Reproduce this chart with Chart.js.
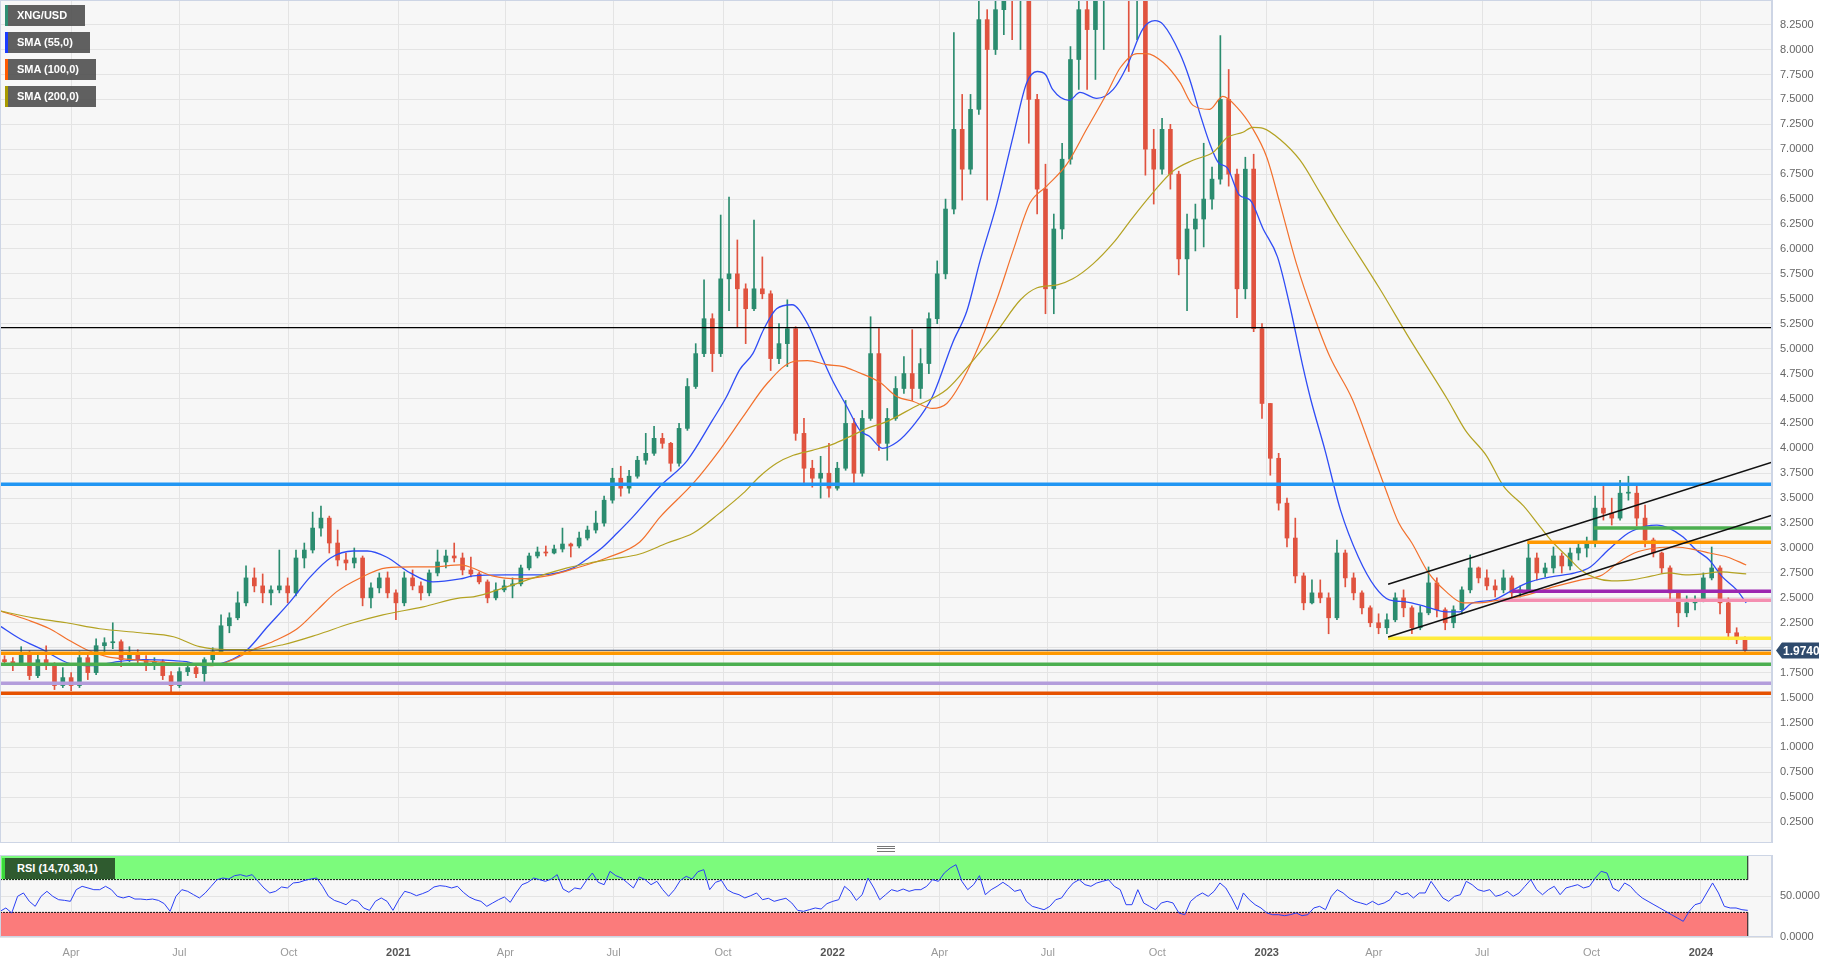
<!DOCTYPE html>
<html>
<head>
<meta charset="utf-8">
<script src="https://cdn.jsdelivr.net/npm/chart.js@4.4.1/dist/chart.umd.min.js"></script>
<style>
  html, body { margin: 0; padding: 0; background: #fff; width: 1837px; height: 964px; overflow: hidden; font-family: Arial, "Liberation Sans", sans-serif; }
  #main { position: absolute; left: 0; top: 0; }
  #rsi { position: absolute; left: 0; top: 853px; }
  .tag { position: absolute; left: 5px; height: 21px; line-height: 21px; background: rgba(84,84,84,0.93); color: #fff; font-weight: bold; font-size: 11px; padding-left: 9px; border-left: 3px solid; box-sizing: border-box; }
  #rsiTag { position: absolute; left: 2px; top: 858px; width: 113px; height: 21px; line-height: 21px; background: #2f5b2f; color: #fff; font-weight: bold; font-size: 11px; padding-left: 12px; border-left: 3px solid #3ad83a; box-sizing: border-box; }
  #grip { position: absolute; left: 877px; top: 846px; width: 18px; height: 6px; border-top: 1px solid #777; border-bottom: 1px solid #777; box-sizing: border-box; }
  #grip::after { content: ""; position: absolute; left: 0; right: 0; top: 1px; border-top: 1px solid #777; }
</style>
</head>
<body>
<canvas id="main" width="1837" height="843"></canvas>
<canvas id="rsi" width="1837" height="111"></canvas>
<div class="tag" style="top:5px;width:80px;border-left-color:#2f8f73">XNG/USD</div>
<div class="tag" style="top:32px;width:85px;border-left-color:#1b3cff">SMA (55,0)</div>
<div class="tag" style="top:59px;width:91px;border-left-color:#ff5a00">SMA (100,0)</div>
<div class="tag" style="top:86px;width:91px;border-left-color:#a89a00">SMA (200,0)</div>
<div id="rsiTag">RSI (14,70,30,1)</div>
<div id="grip"></div>
<script>
// time axis is in days counted from 2020-01-01
const firstCandleDay = 35;      // weekly candles, one per week from early Feb 2020
const xMin = 31.2, xMax = 1520.7;

const tickDays = [91, 182, 274, 366, 456, 547, 639, 731, 821, 912, 1004, 1096, 1186, 1277, 1369, 1461];
const tickLabels = ['Apr', 'Jul', 'Oct', '2021', 'Apr', 'Jul', 'Oct', '2022', 'Apr', 'Jul', 'Oct', '2023', 'Apr', 'Jul', 'Oct', '2024'];
const priceTicks = [0.25, 0.5, 0.75, 1, 1.25, 1.5, 1.75, 2, 2.25, 2.5, 2.75, 3, 3.25, 3.5, 3.75, 4, 4.25, 4.5, 4.75, 5, 5.25, 5.5, 5.75, 6, 6.25, 6.5, 6.75, 7, 7.25, 7.5, 7.75, 8, 8.25];

const opens = [
  1.88, 1.86, 1.84, 1.95, 1.72, 1.88, 1.82, 1.62, 1.70, 1.62, 1.90, 1.75, 2.02, 2.05, 2.06, 1.88, 1.95, 1.88, 1.82, 1.86,
  1.72, 1.62, 1.76, 1.80, 1.74, 1.88, 1.96, 2.22, 2.30, 2.45, 2.70, 2.62, 2.55, 2.58, 2.62, 2.55, 2.90, 2.98, 3.20, 3.30,
  3.05, 2.88, 2.85, 2.90, 2.50, 2.60, 2.70, 2.55, 2.45, 2.70, 2.62, 2.55, 2.75, 2.86, 2.92, 2.90, 2.78, 2.74, 2.66, 2.50,
  2.58, 2.62, 2.64, 2.80, 2.92, 2.96, 2.95, 2.99, 3.04, 3.02, 3.10, 3.18, 3.25, 3.48, 3.70, 3.60, 3.72, 3.88, 3.95, 4.10,
  4.05, 3.85, 4.20, 4.62, 4.95, 5.30, 4.95, 5.70, 5.75, 5.60, 5.40, 5.60, 5.55, 4.90, 5.05, 5.20, 4.15, 3.80, 3.70, 3.75,
  3.60, 3.80, 4.25, 3.75, 4.30, 4.95, 4.05, 4.30, 4.60, 4.75, 4.60, 4.85, 5.30, 5.75, 6.40, 7.20, 6.80, 7.40, 8.30, 8.00,
  8.40, 8.70, 8.50, 8.80, 7.50, 6.60, 5.60, 6.20, 6.90, 7.90, 8.40, 8.20, 8.70, 9.00, 9.20, 9.10, 8.80, 9.20, 7.00, 6.80,
  7.20, 6.75, 5.90, 6.20, 6.30, 6.50, 6.70, 7.50, 6.75, 5.60, 6.80, 5.20, 4.45, 3.90, 3.45, 3.10, 2.72, 2.45, 2.55, 2.50,
  2.30, 2.95, 2.70, 2.55, 2.40, 2.25, 2.20, 2.28, 2.50, 2.40, 2.20, 2.35, 2.65, 2.38, 2.25, 2.38, 2.58, 2.80, 2.70, 2.62,
  2.58, 2.70, 2.55, 2.58, 2.90, 2.75, 2.80, 2.92, 2.82, 2.95, 3.00, 3.05, 3.40, 3.35, 3.30, 3.55, 3.55, 3.30, 3.08, 2.95,
  2.80, 2.55, 2.35, 2.45, 2.48, 2.70, 2.80, 2.45, 2.15, 2.08
];
const highs = [
  1.92, 1.90, 2.01, 1.97, 1.94, 2.02, 1.85, 1.80, 1.75, 1.96, 1.93, 2.09, 2.10, 2.25, 2.08, 2.01, 1.98, 1.92, 1.90, 1.88,
  1.76, 1.80, 1.85, 1.84, 1.90, 2.00, 2.33, 2.35, 2.56, 2.82, 2.80, 2.74, 2.62, 2.98, 2.70, 2.98, 3.05, 3.36, 3.42, 3.32,
  3.18, 2.95, 3.00, 2.92, 2.65, 2.75, 2.76, 2.58, 2.76, 2.78, 2.66, 2.78, 2.98, 2.98, 3.05, 2.95, 2.91, 2.76, 2.68, 2.65,
  2.68, 2.70, 2.83, 2.95, 3.01, 3.02, 3.03, 3.20, 3.05, 3.16, 3.22, 3.37, 3.52, 3.80, 3.82, 3.78, 3.92, 4.15, 4.22, 4.15,
  4.06, 4.25, 4.70, 5.05, 5.69, 5.35, 6.34, 6.52, 6.09, 5.65, 6.29, 5.92, 5.58, 5.25, 5.49, 5.22, 4.30, 3.88, 3.92, 4.05,
  3.86, 4.48, 4.30, 4.38, 5.32, 5.20, 4.40, 4.72, 4.92, 5.19, 5.00, 5.36, 5.88, 6.50, 8.17, 7.55, 7.55, 8.70, 8.40, 8.80,
  9.20, 9.40, 9.30, 9.00, 7.55, 6.85, 6.35, 7.06, 8.03, 8.80, 9.00, 9.30, 9.40, 9.60, 9.80, 9.70, 9.50, 9.30, 7.20, 7.31,
  7.25, 6.78, 6.35, 6.45, 7.06, 6.82, 8.14, 7.80, 6.80, 6.92, 6.95, 5.25, 4.45, 3.95, 3.50, 3.30, 2.75, 2.68, 2.68, 2.55,
  3.08, 2.98, 2.75, 2.57, 2.42, 2.34, 2.34, 2.55, 2.58, 2.42, 2.42, 2.81, 2.70, 2.40, 2.42, 2.61, 2.93, 2.81, 2.78, 2.68,
  2.78, 2.72, 2.62, 3.05, 2.95, 2.85, 3.01, 2.95, 3.00, 3.05, 3.11, 3.52, 3.63, 3.50, 3.68, 3.72, 3.62, 3.43, 3.10, 2.96,
  2.82, 2.56, 2.52, 2.52, 2.75, 3.01, 2.82, 2.50, 2.20, 2.11
];
const lows = [
  1.82, 1.77, 1.83, 1.68, 1.70, 1.78, 1.58, 1.60, 1.57, 1.60, 1.68, 1.73, 1.96, 1.99, 1.81, 1.86, 1.84, 1.77, 1.78, 1.68,
  1.53, 1.60, 1.72, 1.70, 1.66, 1.85, 1.95, 2.15, 2.28, 2.42, 2.56, 2.45, 2.43, 2.55, 2.45, 2.52, 2.80, 2.95, 3.12, 2.95,
  2.82, 2.78, 2.80, 2.42, 2.40, 2.55, 2.50, 2.28, 2.42, 2.58, 2.48, 2.52, 2.72, 2.80, 2.86, 2.73, 2.71, 2.64, 2.45, 2.48,
  2.56, 2.50, 2.62, 2.78, 2.90, 2.92, 2.94, 2.96, 2.91, 3.00, 3.08, 3.15, 3.22, 3.45, 3.52, 3.55, 3.70, 3.84, 3.93, 4.00,
  3.77, 3.82, 4.18, 4.60, 4.92, 4.77, 4.92, 5.38, 5.22, 5.05, 5.38, 5.50, 4.78, 4.85, 4.82, 4.08, 3.65, 3.61, 3.50, 3.51,
  3.58, 3.78, 3.65, 3.72, 4.28, 3.98, 3.88, 4.28, 4.55, 4.48, 4.50, 4.75, 5.25, 5.70, 6.35, 6.49, 6.75, 7.35, 6.49, 7.95,
  8.15, 8.10, 8.00, 7.06, 6.35, 5.35, 5.35, 6.10, 6.85, 7.60, 7.60, 7.70, 8.00, 8.60, 8.50, 7.78, 8.10, 6.74, 6.45, 6.75,
  6.60, 5.74, 5.38, 5.98, 6.02, 6.40, 6.65, 6.63, 5.31, 5.50, 5.17, 4.30, 3.73, 3.38, 3.01, 2.65, 2.38, 2.44, 2.45, 2.14,
  2.28, 2.61, 2.48, 2.34, 2.21, 2.14, 2.14, 2.26, 2.31, 2.14, 2.18, 2.33, 2.31, 2.18, 2.20, 2.34, 2.55, 2.65, 2.58, 2.51,
  2.55, 2.51, 2.51, 2.56, 2.68, 2.71, 2.75, 2.75, 2.78, 2.88, 2.91, 3.01, 3.28, 3.23, 3.28, 3.48, 3.22, 3.01, 2.91, 2.75,
  2.48, 2.21, 2.31, 2.38, 2.46, 2.68, 2.34, 2.08, 2.04, 1.96
];
const closes = [
  1.86, 1.84, 1.95, 1.72, 1.88, 1.82, 1.62, 1.70, 1.62, 1.90, 1.75, 2.02, 2.05, 2.06, 1.88, 1.95, 1.88, 1.82, 1.86, 1.72,
  1.62, 1.76, 1.80, 1.74, 1.88, 1.96, 2.22, 2.30, 2.45, 2.70, 2.62, 2.55, 2.58, 2.62, 2.55, 2.90, 2.98, 3.20, 3.30, 3.05,
  2.88, 2.85, 2.90, 2.50, 2.60, 2.70, 2.55, 2.45, 2.70, 2.62, 2.55, 2.75, 2.86, 2.92, 2.90, 2.78, 2.74, 2.66, 2.50, 2.58,
  2.62, 2.64, 2.80, 2.92, 2.96, 2.95, 2.99, 3.04, 3.02, 3.10, 3.18, 3.25, 3.48, 3.70, 3.60, 3.72, 3.88, 3.95, 4.10, 4.05,
  3.85, 4.20, 4.62, 4.95, 5.30, 4.95, 5.70, 5.75, 5.60, 5.40, 5.60, 5.55, 4.90, 5.05, 5.20, 4.15, 3.80, 3.70, 3.75, 3.60,
  3.80, 4.25, 3.75, 4.30, 4.95, 4.05, 4.30, 4.60, 4.75, 4.60, 4.85, 5.30, 5.75, 6.40, 7.20, 6.80, 7.40, 8.30, 8.00, 8.40,
  8.70, 8.50, 8.80, 7.50, 6.60, 5.60, 6.20, 6.90, 7.90, 8.40, 8.20, 8.70, 9.00, 9.20, 9.10, 8.80, 9.20, 7.00, 6.80, 7.20,
  6.75, 5.90, 6.20, 6.30, 6.50, 6.70, 7.50, 6.75, 5.60, 6.80, 5.20, 4.45, 3.90, 3.45, 3.10, 2.72, 2.45, 2.55, 2.50, 2.30,
  2.95, 2.70, 2.55, 2.40, 2.25, 2.20, 2.28, 2.50, 2.40, 2.20, 2.35, 2.65, 2.38, 2.25, 2.38, 2.58, 2.80, 2.70, 2.62, 2.58,
  2.70, 2.55, 2.58, 2.90, 2.75, 2.80, 2.92, 2.82, 2.95, 3.00, 3.05, 3.40, 3.35, 3.30, 3.55, 3.55, 3.30, 3.08, 2.95, 2.80,
  2.55, 2.35, 2.45, 2.48, 2.70, 2.80, 2.45, 2.15, 2.08, 1.974
];

const sma55Days = [31, 48, 67, 90, 109, 130, 151, 177, 188, 202, 222, 239, 256, 275, 292, 309, 328, 340, 356, 376, 395, 418, 429, 457, 485, 513, 527, 538, 550, 563, 586, 609, 630, 642, 653, 664, 673, 684, 697, 710, 723, 731, 743, 754, 762, 773, 785, 799, 815, 832, 844, 855, 869, 883, 894, 903, 910, 916, 930, 939, 953, 967, 978, 992, 1002, 1009, 1023, 1031, 1040, 1048, 1055, 1063, 1073, 1082, 1093, 1105, 1115, 1126, 1133, 1145, 1158, 1173, 1187, 1199, 1213, 1230, 1247, 1258, 1269, 1287, 1300, 1315, 1335, 1355, 1368, 1383, 1400, 1415, 1424, 1434, 1446, 1457, 1468, 1479, 1491, 1499];
const sma55 = [2.22, 2.09, 1.98, 1.84, 1.82, 1.86, 1.88, 1.87, 1.86, 1.82, 1.86, 1.98, 2.21, 2.46, 2.71, 2.90, 2.97, 2.97, 2.91, 2.75, 2.66, 2.69, 2.72, 2.73, 2.73, 2.80, 2.91, 3.01, 3.15, 3.31, 3.62, 3.88, 4.28, 4.52, 4.79, 4.95, 5.19, 5.40, 5.44, 5.25, 4.89, 4.68, 4.42, 4.18, 4.12, 4.00, 4.06, 4.23, 4.52, 5.06, 5.38, 5.88, 6.45, 7.14, 7.66, 7.78, 7.75, 7.60, 7.49, 7.57, 7.51, 7.60, 7.82, 8.21, 8.29, 8.25, 7.96, 7.71, 7.35, 7.06, 6.87, 6.81, 6.54, 6.49, 6.20, 5.92, 5.45, 4.84, 4.49, 3.98, 3.38, 2.91, 2.61, 2.48, 2.46, 2.41, 2.36, 2.36, 2.45, 2.48, 2.56, 2.65, 2.71, 2.75, 2.81, 2.98, 3.15, 3.22, 3.23, 3.20, 3.11, 2.98, 2.88, 2.71, 2.58, 2.45];

const sma100Days = [31, 54, 73, 87, 104, 121, 143, 172, 193, 210, 227, 244, 264, 281, 298, 314, 334, 356, 378, 395, 418, 426, 445, 468, 491, 513, 541, 569, 586, 614, 636, 656, 676, 698, 710, 726, 740, 751, 771, 785, 799, 815, 827, 841, 855, 869, 883, 897, 911, 928, 945, 962, 973, 987, 995, 1009, 1023, 1034, 1048, 1059, 1071, 1084, 1096, 1107, 1121, 1135, 1149, 1168, 1184, 1195, 1207, 1218, 1232, 1247, 1261, 1275, 1292, 1315, 1337, 1360, 1378, 1391, 1405, 1423, 1440, 1457, 1468, 1483, 1499];
const sma100 = [2.37, 2.28, 2.19, 2.09, 1.98, 1.91, 1.88, 1.85, 1.84, 1.82, 1.88, 1.98, 2.08, 2.19, 2.38, 2.56, 2.70, 2.80, 2.81, 2.81, 2.83, 2.81, 2.72, 2.69, 2.72, 2.79, 2.90, 3.06, 3.31, 3.65, 3.98, 4.32, 4.65, 4.87, 4.88, 4.84, 4.82, 4.77, 4.66, 4.52, 4.47, 4.40, 4.45, 4.70, 5.06, 5.49, 5.99, 6.46, 6.63, 6.85, 7.21, 7.57, 7.82, 7.96, 7.96, 7.87, 7.67, 7.44, 7.40, 7.53, 7.42, 7.21, 6.92, 6.46, 5.85, 5.35, 4.92, 4.49, 3.98, 3.62, 3.25, 3.05, 2.75, 2.56, 2.45, 2.45, 2.48, 2.53, 2.61, 2.68, 2.73, 2.85, 2.95, 3.00, 3.01, 2.98, 2.95, 2.91, 2.83];

const sma200Days = [31, 59, 87, 115, 149, 177, 199, 222, 241, 269, 298, 325, 353, 387, 418, 429, 457, 485, 508, 527, 546, 569, 592, 614, 636, 656, 670, 684, 698, 714, 731, 746, 760, 777, 799, 827, 849, 869, 889, 903, 920, 933, 950, 967, 983, 1000, 1017, 1034, 1051, 1063, 1076, 1084, 1093, 1107, 1124, 1141, 1157, 1191, 1216, 1248, 1263, 1281, 1295, 1312, 1326, 1337, 1349, 1360, 1372, 1386, 1403, 1420, 1434, 1448, 1463, 1477, 1499];
const sma200 = [2.37, 2.30, 2.25, 2.19, 2.15, 2.11, 2.01, 1.98, 1.98, 2.03, 2.13, 2.24, 2.33, 2.41, 2.50, 2.51, 2.61, 2.72, 2.80, 2.85, 2.89, 2.94, 3.05, 3.15, 3.35, 3.55, 3.72, 3.85, 3.93, 3.98, 4.04, 4.12, 4.20, 4.27, 4.41, 4.59, 4.88, 5.17, 5.49, 5.61, 5.64, 5.70, 5.85, 6.06, 6.31, 6.56, 6.78, 6.89, 6.97, 7.12, 7.17, 7.22, 7.21, 7.10, 6.89, 6.56, 6.24, 5.60, 5.10, 4.49, 4.18, 3.92, 3.62, 3.42, 3.21, 3.05, 2.91, 2.78, 2.70, 2.67, 2.68, 2.72, 2.75, 2.73, 2.74, 2.76, 2.74];

// horizontal levels: price and the day they start from
const levelValues = [5.21, 3.64, 3.20, 3.057, 2.566, 2.476, 2.095, 1.944, 1.834, 1.643, 1.543];
const levelFrom = [31.2, 31.2, 1371, 1315, 1302, 1291, 1198, 31.2, 31.2, 31.2, 31.2];
// channel lines: [day, price] pairs
const channelUpper = [[1198, 2.636], [1520.7, 3.86]];
const channelLower = [[1198, 2.108], [1520.7, 3.33]];

// RSI(14) sampled every rsiStep days from rsiStart
const rsiStart = 31.2, rsiStep = 4.93;
const rsiValues = [
  31.3, 35.4, 29.3, 49.6, 53.7, 43.5, 37.4, 49.6, 55.7, 49.6, 45.5, 44.7, 43.5, 57.7, 61.8, 59.8, 57.7, 57.7, 61.8, 57.7,
  49.6, 47.6, 49.6, 46.3, 46.3, 45.5, 46.3, 44.7, 40.7, 31.3, 49.6, 57.7, 55.7, 51.6, 47.6, 53.7, 61.8, 69.9, 71.9, 70.7,
  74.8, 76.0, 74.0, 76.0, 67.9, 59.8, 53.7, 55.7, 61.0, 59.8, 65.9, 66.7, 69.1, 70.7, 71.9, 61.8, 49.6, 44.7, 42.3, 39.4,
  45.5, 43.5, 35.4, 32.5, 43.5, 47.6, 43.5, 32.5, 45.5, 55.7, 53.7, 50.4, 52.8, 55.7, 61.0, 62.6, 61.8, 59.8, 61.8, 54.5,
  48.8, 45.5, 43.5, 37.4, 41.5, 45.5, 48.8, 42.3, 53.7, 63.8, 66.7, 71.9, 69.9, 67.9, 70.7, 76.0, 58.5, 54.5, 59.8, 58.5,
  69.1, 78.0, 66.7, 63.8, 80.1, 74.8, 71.9, 65.9, 59.8, 73.2, 69.9, 63.8, 67.9, 57.7, 49.6, 57.7, 69.1, 74.0, 70.7, 79.7,
  82.1, 57.7, 66.7, 69.1, 57.7, 53.7, 51.6, 47.6, 50.4, 53.7, 45.5, 47.2, 43.5, 45.5, 47.2, 41.5, 32.5, 31.3, 33.3, 35.4,
  34.1, 40.7, 43.5, 45.5, 61.8, 55.7, 44.7, 51.6, 71.9, 59.8, 45.5, 51.6, 57.7, 55.7, 58.5, 55.7, 57.7,
  57.7, 61.8, 69.9, 67.9, 78.0, 84.1, 88.2, 67.9, 57.7, 63.8, 74.8, 51.6, 57.7, 61.8, 66.7, 61.8, 55.7, 57.7, 43.5, 37.4,
  35.4, 33.3, 37.4, 45.5, 47.6, 57.7, 65.9, 69.9, 63.8, 61.8, 65.9, 67.9, 69.9, 61.8, 57.7, 39.4, 39.4, 57.7, 41.5, 37.4,
  33.3, 41.5, 43.5, 41.5, 29.3, 27.2, 43.5, 49.6, 53.7, 49.6, 55.7, 65.9, 59.8, 47.6, 33.3, 53.7, 45.5, 39.4, 35.4, 29.3,
  27.2, 27.2, 26.0, 27.2, 29.3, 26.0, 27.2, 35.4, 37.4, 33.3, 49.6, 57.7, 53.7, 47.6, 43.5, 41.5, 39.4, 43.5, 39.4, 41.5,
  45.5, 55.7, 51.6, 53.7, 47.6, 53.7, 53.7, 67.9, 57.7, 47.6, 43.5, 49.6, 51.6, 67.9, 63.8, 57.7, 55.7, 57.7, 49.6, 51.6,
  55.7, 49.6, 53.7, 61.8, 69.9, 57.7, 51.6, 57.7, 61.8, 51.6, 59.8, 61.8, 63.8, 59.8, 61.8, 71.9, 80.1, 78.0, 59.8, 55.7,
  65.9, 61.8, 53.7, 47.6, 43.5, 39.4, 35.4, 31.3, 27.2, 23.2, 19.1, 31.3, 39.4, 41.5, 53.7, 65.9, 53.7, 37.4, 35.4, 35.4,
  33.3, 32.5
];

// ---- styles ----
const UP = '#2b8c6f', DOWN = '#e0533f';
const levelStyles = [
  ['#000000', 1.3], ['#2196f3', 3.5], ['#4caf50', 3.5], ['#ff9800', 3.5], ['#9c27b0', 3.5], ['#f48fb1', 3.5],
  ['#ffeb3b', 3.5], ['#ff9800', 3.5], ['#4caf50', 3.5], ['#b39ddb', 3.5], ['#e65100', 3.5]
];
const GRID = '#e4e4e4', FRAME = '#cdd5e5';

Chart.defaults.font.family = 'Arial, "Liberation Sans", sans-serif';

const lastClose = closes[closes.length - 1];
const candleDay = i => firstCandleDay + 7 * i;
const isUp = i => closes[i] >= opens[i];
const pts = (days, vals) => days.map((d, i) => ({ x: d, y: vals[i] }));
const flatLine = (from, v) => [{ x: from, y: v }, { x: xMax, y: v }];

// right-hand value axis: fixed width, no label overhang padding
const fitValueAxis = s => { s.width = 65; s.paddingTop = 0; s.paddingBottom = 0; };

const plotFrame = {
  id: 'plotFrame',
  beforeDraw(chart) {
    const { ctx, chartArea: a } = chart;
    ctx.save();
    ctx.fillStyle = '#f7f7f7';
    ctx.fillRect(a.left, a.top, a.width, a.height);
    ctx.restore();
  },
  afterDraw(chart) {
    const { ctx, chartArea: a } = chart;
    ctx.save();
    ctx.strokeStyle = FRAME;
    ctx.lineWidth = 1;
    ctx.strokeRect(a.left + 0.5, a.top + 0.5, a.width - 1, a.height - 1);
    ctx.restore();
  }
};

const priceTag = {
  id: 'priceTag',
  afterDraw(chart) {
    const { ctx, chartArea, scales } = chart;
    const y = Math.round(scales.y.getPixelForValue(lastClose)) + 0.5;
    const x0 = chartArea.right + 4, x1 = x0 + 6, x2 = x0 + 43, h = 8;
    ctx.save();
    ctx.fillStyle = '#2f4b6d';
    ctx.beginPath();
    ctx.moveTo(x0, y); ctx.lineTo(x1, y - h); ctx.lineTo(x2, y - h);
    ctx.lineTo(x2, y + h); ctx.lineTo(x1, y + h); ctx.closePath();
    ctx.fill();
    ctx.fillStyle = '#fff';
    ctx.font = 'bold 12px Arial, "Liberation Sans", sans-serif';
    ctx.textBaseline = 'middle';
    ctx.fillText(lastClose.toFixed(4), x1 + 1, y + 1);
    ctx.restore();
  }
};

const xAxisBase = {
  type: 'linear', min: xMin, max: xMax, offset: false,
  grid: { color: GRID, drawTicks: false, offset: false },
  border: { display: false },
  afterBuildTicks: s => { s.ticks = tickDays.map(v => ({ value: v })); }
};

const lineSet = (data, color, width, order) => ({
  type: 'line', data, borderColor: color, borderWidth: width, pointRadius: 0,
  fill: false, order, cubicInterpolationMode: 'monotone'
});

const mainSets = [
  {
    type: 'bar', label: 'wicks', grouped: false, order: 5, barThickness: 1,
    data: highs.map((h, i) => ({ x: candleDay(i), y: [lows[i], h] })),
    backgroundColor: c => isUp(c.dataIndex) ? UP : DOWN
  },
  {
    type: 'bar', label: 'bodies', grouped: false, order: 4, barThickness: 4, minBarLength: 1,
    data: opens.map((o, i) => ({ x: candleDay(i), y: [o, closes[i]] })),
    backgroundColor: c => isUp(c.dataIndex) ? UP : DOWN
  },
  lineSet(pts(sma200Days, sma200), '#b3a222', 1.2, 3),
  lineSet(pts(sma100Days, sma100), '#f2702c', 1.2, 3),
  lineSet(pts(sma55Days, sma55), '#2f4cf5', 1.3, 3),
  lineSet(flatLine(xMin, lastClose), '#2c3f63', 1, 2),
  lineSet(channelUpper.map(p => ({ x: p[0], y: p[1] })), '#111', 1.5, 1),
  lineSet(channelLower.map(p => ({ x: p[0], y: p[1] })), '#111', 1.5, 1)
];
levelValues.forEach((v, i) => {
  mainSets.push(lineSet(flatLine(levelFrom[i], v), levelStyles[i][0], levelStyles[i][1], 1));
});

new Chart(document.getElementById('main'), {
  type: 'bar',
  data: { datasets: mainSets },
  options: {
    responsive: false, animation: false, devicePixelRatio: 1,
    layout: { padding: 0, autoPadding: false },
    plugins: { legend: { display: false }, tooltip: { enabled: false } },
    scales: {
      x: Object.assign({}, xAxisBase, {
        ticks: { display: false },
        afterFit: s => { s.height = 0; }
      }),
      y: {
        type: 'linear', position: 'right', min: 0.041, max: 8.497,
        grid: { color: GRID, drawTicks: false },
        border: { color: FRAME },
        ticks: { color: '#666', font: { size: 11 }, padding: 8, callback: v => v.toFixed(4) },
        afterBuildTicks: s => { s.ticks = priceTicks.map(v => ({ value: v })); },
        afterFit: fitValueAxis
      }
    }
  },
  plugins: [plotFrame, priceTag]
});

// ---- RSI panel ----
const rsiEnd = rsiStart + rsiStep * (rsiValues.length - 1);
const rsiPts = rsiValues.map((v, i) => ({ x: rsiStart + rsiStep * i, y: v }));

new Chart(document.getElementById('rsi'), {
  type: 'line',
  data: {
    datasets: [
      { data: rsiPts, borderColor: '#2a3ff5', borderWidth: 1, pointRadius: 0, fill: false, order: 1 },
      { data: [{ x: xMin, y: 100 }, { x: rsiEnd, y: 100 }], borderWidth: 0, pointRadius: 0, fill: false, order: 3 },
      { data: [{ x: xMin, y: 70 }, { x: rsiEnd, y: 70 }], borderColor: '#111', borderWidth: 1, borderDash: [2, 1],
        pointRadius: 0, fill: '-1', backgroundColor: '#7cfb7c', order: 3 },
      { data: [{ x: xMin, y: 30 }, { x: rsiEnd, y: 30 }], borderColor: '#111', borderWidth: 1, borderDash: [2, 1],
        pointRadius: 0, fill: { value: 0 }, backgroundColor: '#fb7b7b', order: 3 },
      { data: [{ x: rsiEnd, y: 0 }, { x: rsiEnd, y: 30 }, { x: rsiEnd, y: null }, { x: rsiEnd, y: 70 }, { x: rsiEnd, y: 100 }],
        borderColor: '#111', borderWidth: 1, pointRadius: 0, fill: false, order: 2 },
      { data: [{ x: xMin, y: 0 }, { x: xMin, y: 100 }], borderColor: '#111', borderWidth: 2, pointRadius: 0, fill: false, order: 2 }
    ]
  },
  options: {
    responsive: false, animation: false, devicePixelRatio: 1,
    layout: { padding: { top: 2 }, autoPadding: false },
    plugins: { legend: { display: false }, tooltip: { enabled: false } },
    scales: {
      x: Object.assign({}, xAxisBase, {
        ticks: {
          padding: 9, autoSkip: false, maxRotation: 0,
          callback: (v, i) => tickLabels[i],
          color: c => /^\d{4}$/.test(tickLabels[c.index]) ? '#555' : '#999',
          font: c => ({ size: 11, weight: /^\d{4}$/.test(tickLabels[c.index]) ? 'bold' : 'normal' })
        },
        afterFit: s => { s.height = 27; }
      }),
      y: {
        type: 'linear', position: 'right', min: 0, max: 100,
        grid: { color: GRID, drawTicks: false },
        border: { color: FRAME },
        ticks: { color: '#666', font: { size: 11 }, padding: 8, callback: v => v.toFixed(4) },
        afterBuildTicks: s => { s.ticks = [{ value: 0 }, { value: 50 }]; },
        afterFit: fitValueAxis
      }
    }
  },
  plugins: [plotFrame]
});
</script>
</body>
</html>
